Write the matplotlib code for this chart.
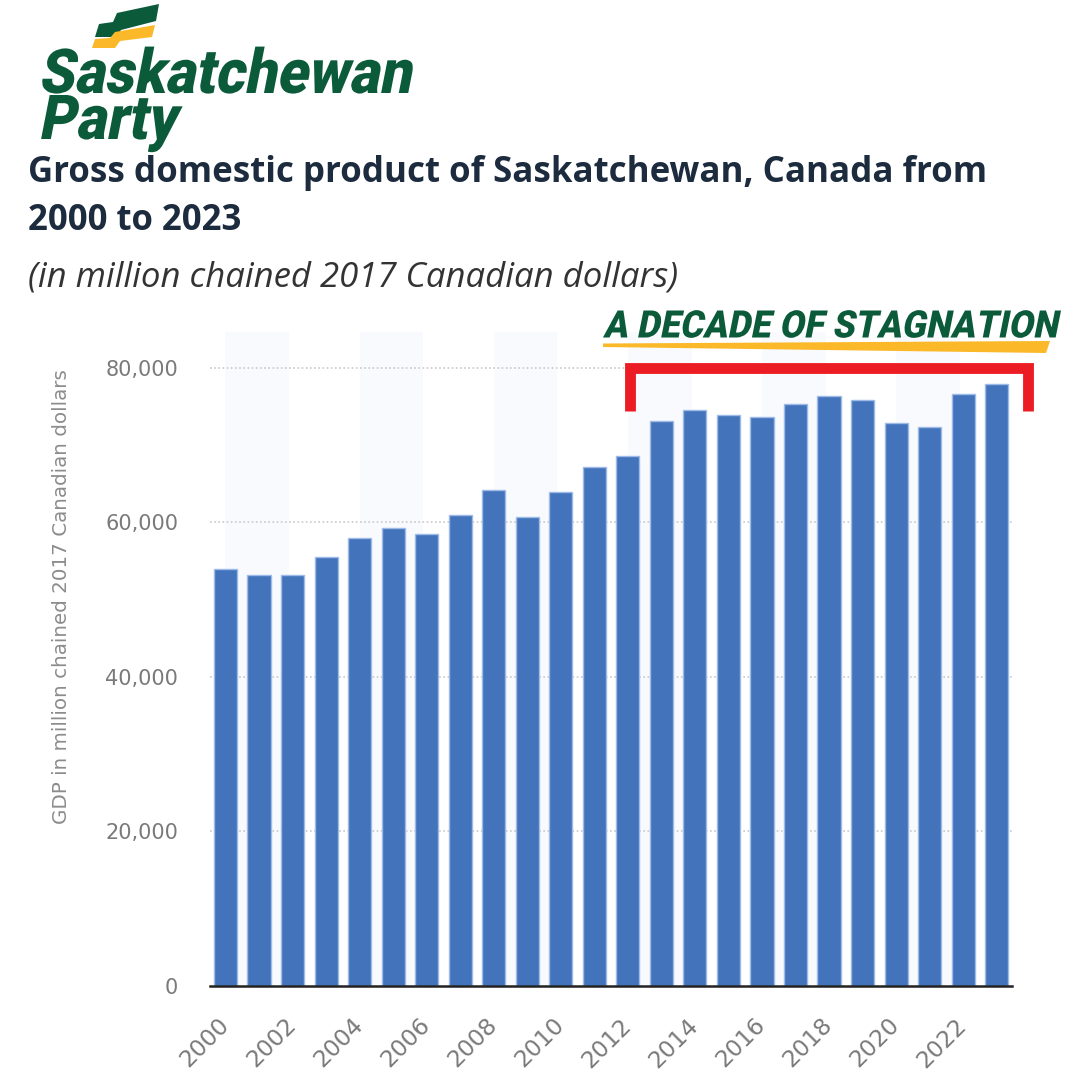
import matplotlib
matplotlib.use("Agg")
import matplotlib.pyplot as plt
from matplotlib import patheffects, font_manager
from matplotlib.font_manager import FontProperties
from matplotlib.transforms import Affine2D
from matplotlib.patches import Polygon
from matplotlib.lines import Line2D
from matplotlib.ticker import FuncFormatter

# ---------------- data ----------------
years = list(range(2000, 2024))
gdp = [53900, 53100, 53100, 55500, 57950, 59250, 58450, 60950, 64150, 60700,
       63850, 67100, 68500, 73100, 74500, 73900, 73650, 75250, 76350, 75800,
       72800, 72250, 76600, 77900]
yticks = [0, 20000, 40000, 60000, 80000]
xtick_years = list(range(2000, 2023, 2))
title_line1 = "Gross domestic product of Saskatchewan, Canada from"
title_line2 = "2000 to 2023"
subtitle = "(in million chained 2017 Canadian dollars)"
ylabel = "GDP in million chained 2017 Canadian dollars"
banner = "A DECADE OF STAGNATION"
logo_lines = ["Saskatchewan", "Party"]
bracket_start, bracket_end = 2012, 2023

GREEN = "#0b5b3b"
YELLOW = "#fbb829"
RED = "#ec1c24"
BAR = "#4374bb"

W = H = 1080
fig = plt.figure(figsize=(10.8, 10.8), dpi=100)
fig.patch.set_facecolor("white")
renderer = fig.canvas.get_renderer()


def fx(x):
    return x / W


def fy(y):
    return 1 - y / H


# pick the heaviest upright sans available
best = None
for fam in ["Roboto", "Lato", "Inter", "Open Sans", "Noto Sans"]:
    for f in font_manager.fontManager.ttflist:
        if f.name == fam and f.style == "normal" and "ondensed" not in f.fname:
            wt = f.weight if isinstance(f.weight, int) else 400
            if best is None or wt > best[0]:
                best = (wt, f.fname)
if best is not None:
    HEAVY = FontProperties(fname=best[1])
    HEAVY_W = best[0]
else:
    HEAVY = FontProperties(family="DejaVu Sans", weight="bold")
    HEAVY_W = 700
STROKE = 0.0 if HEAVY_W >= 900 else (0.9 if HEAVY_W >= 800 else 1.6)


class Squeeze(patheffects.AbstractPathEffect):
    def __init__(self, sy=1.0, skew=0.0, stroke=0.0):
        super().__init__()
        self.sy = sy
        self.skew = skew
        self.stroke = stroke

    def draw_path(self, renderer, gc, tpath, affine, rgbFace=None):
        a = Affine2D().skew_deg(self.skew, 0).scale(1, self.sy) + affine
        gc0 = renderer.new_gc()
        gc0.copy_properties(gc)
        if self.stroke > 0:
            gc0.set_linewidth(self.stroke)
            gc0.set_foreground(rgbFace)
            gc0.set_joinstyle("round")
        else:
            gc0.set_linewidth(0)
        renderer.draw_path(gc0, tpath, a, rgbFace)
        gc0.restore()


def heavy_size(s, target_w):
    prop = HEAVY.copy()
    prop.set_size(40)
    w, _, _ = renderer.get_text_width_height_descent(s, prop, ismath=False)
    return 40 * (target_w - STROKE * 1.4) / w


def heavy_text(x, y, s, target_w, cap_px, color, skew=12):
    size = heavy_size(s, target_w)
    t = fig.text(fx(x), fy(y), s, fontproperties=HEAVY, fontsize=size,
                 color=color, ha="left", va="baseline")
    natural_cap = 0.711 * size * 100 / 72
    t.set_path_effects([Squeeze(sy=cap_px / natural_cap, skew=skew, stroke=STROKE)])
    return t


def fitted_text(x, y, s, size, target_w, **kw):
    t = fig.text(fx(x), fy(y), s, fontsize=size, ha="left", va="baseline", **kw)
    w = t.get_window_extent(renderer=renderer).width
    t.set_fontsize(size * target_w / w)
    return t


# ---------------- logo ----------------
green_flag = [(95, 37), (99, 24), (113, 22), (117, 13), (159, 4), (156, 21),
              (121, 30), (116, 37)]
yellow_flag = [(92, 48), (95, 39), (110, 38), (115, 32), (155, 25), (152, 37),
               (120, 41), (115, 48)]
for pts, c in ((green_flag, GREEN), (yellow_flag, YELLOW)):
    fig.patches.append(Polygon([(fx(a), fy(b)) for a, b in pts], closed=True,
                               transform=fig.transFigure, facecolor=c,
                               edgecolor="none"))

# two-line logo as one text: first baseline at y=93, second at y=139
lsize = heavy_size(logo_lines[0], 372)
lprop = HEAVY.copy()
lprop.set_size(lsize)
_, lp_h, lp_d = renderer.get_text_width_height_descent("lp", lprop, ismath=False)
_, h1, d1 = renderer.get_text_width_height_descent(logo_lines[0], lprop, ismath=False)
_, h2, d2 = renderer.get_text_width_height_descent(logo_lines[1], lprop, ismath=False)
asc1 = max(h1 - d1, lp_h - lp_d)
desc1 = max(d1, lp_d)
asc2 = max(h2 - d2, lp_h - lp_d)
base1, base2 = 93, 139
lspacing = (base2 - base1 - desc1) / asc2
logo = fig.text(fx(38), fy(base1 - asc1), "\n".join(logo_lines),
                fontproperties=HEAVY, fontsize=lsize, color=GREEN, ha="left",
                va="top", linespacing=lspacing, multialignment="left")
logo.set_path_effects([Squeeze(sy=44 / (0.711 * lsize * 100 / 72), skew=12,
                               stroke=STROKE)])

# ---------------- titles ----------------
fitted_text(28, 182, title_line1, 23.5, 960, color="#1c2b3d",
            family=["Open Sans", "DejaVu Sans"], weight="bold")
fitted_text(28, 230, title_line2, 23.5, 213, color="#1c2b3d",
            family=["Open Sans", "DejaVu Sans"], weight="bold")
fitted_text(28, 287, subtitle, 23.5, 652, color="#333333",
            family=["Open Sans", "DejaVu Sans"], style="italic")

# ---------------- axes ----------------
ax_l, ax_r, ax_b, ax_t = 210, 1012, 985.7, 332
ax = fig.add_axes([fx(ax_l), fy(ax_b), (ax_r - ax_l) / W, (ax_b - ax_t) / H])
ax.set_facecolor("white")
ax.set_xlim(years[0] - 0.462, years[-1] + 0.456)
ax.set_ylim(0, 84600)

for y0 in range(years[0], years[-1], 4):
    ax.axvspan(y0, y0 + 1.9, color="#f9fafd", zorder=0, lw=0)

ax.bar(years, gdp, width=0.69, color=BAR, edgecolor="#9dbbe6", linewidth=1.0,
       zorder=3)

for v in yticks[1:]:
    ax.axhline(v, color="#c9c9c9", lw=1.2, ls=(0, (1, 1.5)), zorder=1)

for s in ("top", "right", "left"):
    ax.spines[s].set_visible(False)
ax.spines["bottom"].set_color("#222222")
ax.spines["bottom"].set_linewidth(1.8)
ax.spines["bottom"].set_zorder(4)

ax.set_yticks(yticks)
ax.yaxis.set_major_formatter(FuncFormatter(lambda v, p: f"{int(v):,}"))
ax.tick_params(axis="y", length=0, pad=23, labelsize=15, labelcolor="#7a7a7a")
ax.set_xticks(xtick_years)
ax.set_xticklabels([str(y) for y in xtick_years], rotation=45, ha="right",
                   va="center", rotation_mode="anchor")
ax.tick_params(axis="x", length=0, pad=26, labelsize=16.8, labelcolor="#7a7a7a")
for lab in ax.get_xticklabels():
    lab.set_family("DejaVu Sans")

fig.text(fx(62), fy(597), ylabel, rotation=90, ha="center", va="center",
         fontsize=14.3, color="#8c8c8c", family="DejaVu Sans")

# ---------------- annotation ----------------
xb0 = bracket_start + 0.06
xb1 = bracket_end + 0.93
yb_top = 79950
yb_leg = 74400
ax.add_line(Line2D([xb0, xb0, xb1, xb1], [yb_leg, yb_top, yb_top, yb_leg],
                   color=RED, lw=7.8, solid_joinstyle="miter",
                   solid_capstyle="butt", clip_on=False, zorder=6))

underline = [(603, 343.5), (1050, 341), (1046, 353), (603, 347)]
fig.patches.append(Polygon([(fx(a), fy(b)) for a, b in underline], closed=True,
                           transform=fig.transFigure, facecolor=YELLOW,
                           edgecolor="none"))
heavy_text(603, 337.5, banner, 454, 27, GREEN, skew=12)

fig.savefig("out.png", dpi=100, facecolor="white")
